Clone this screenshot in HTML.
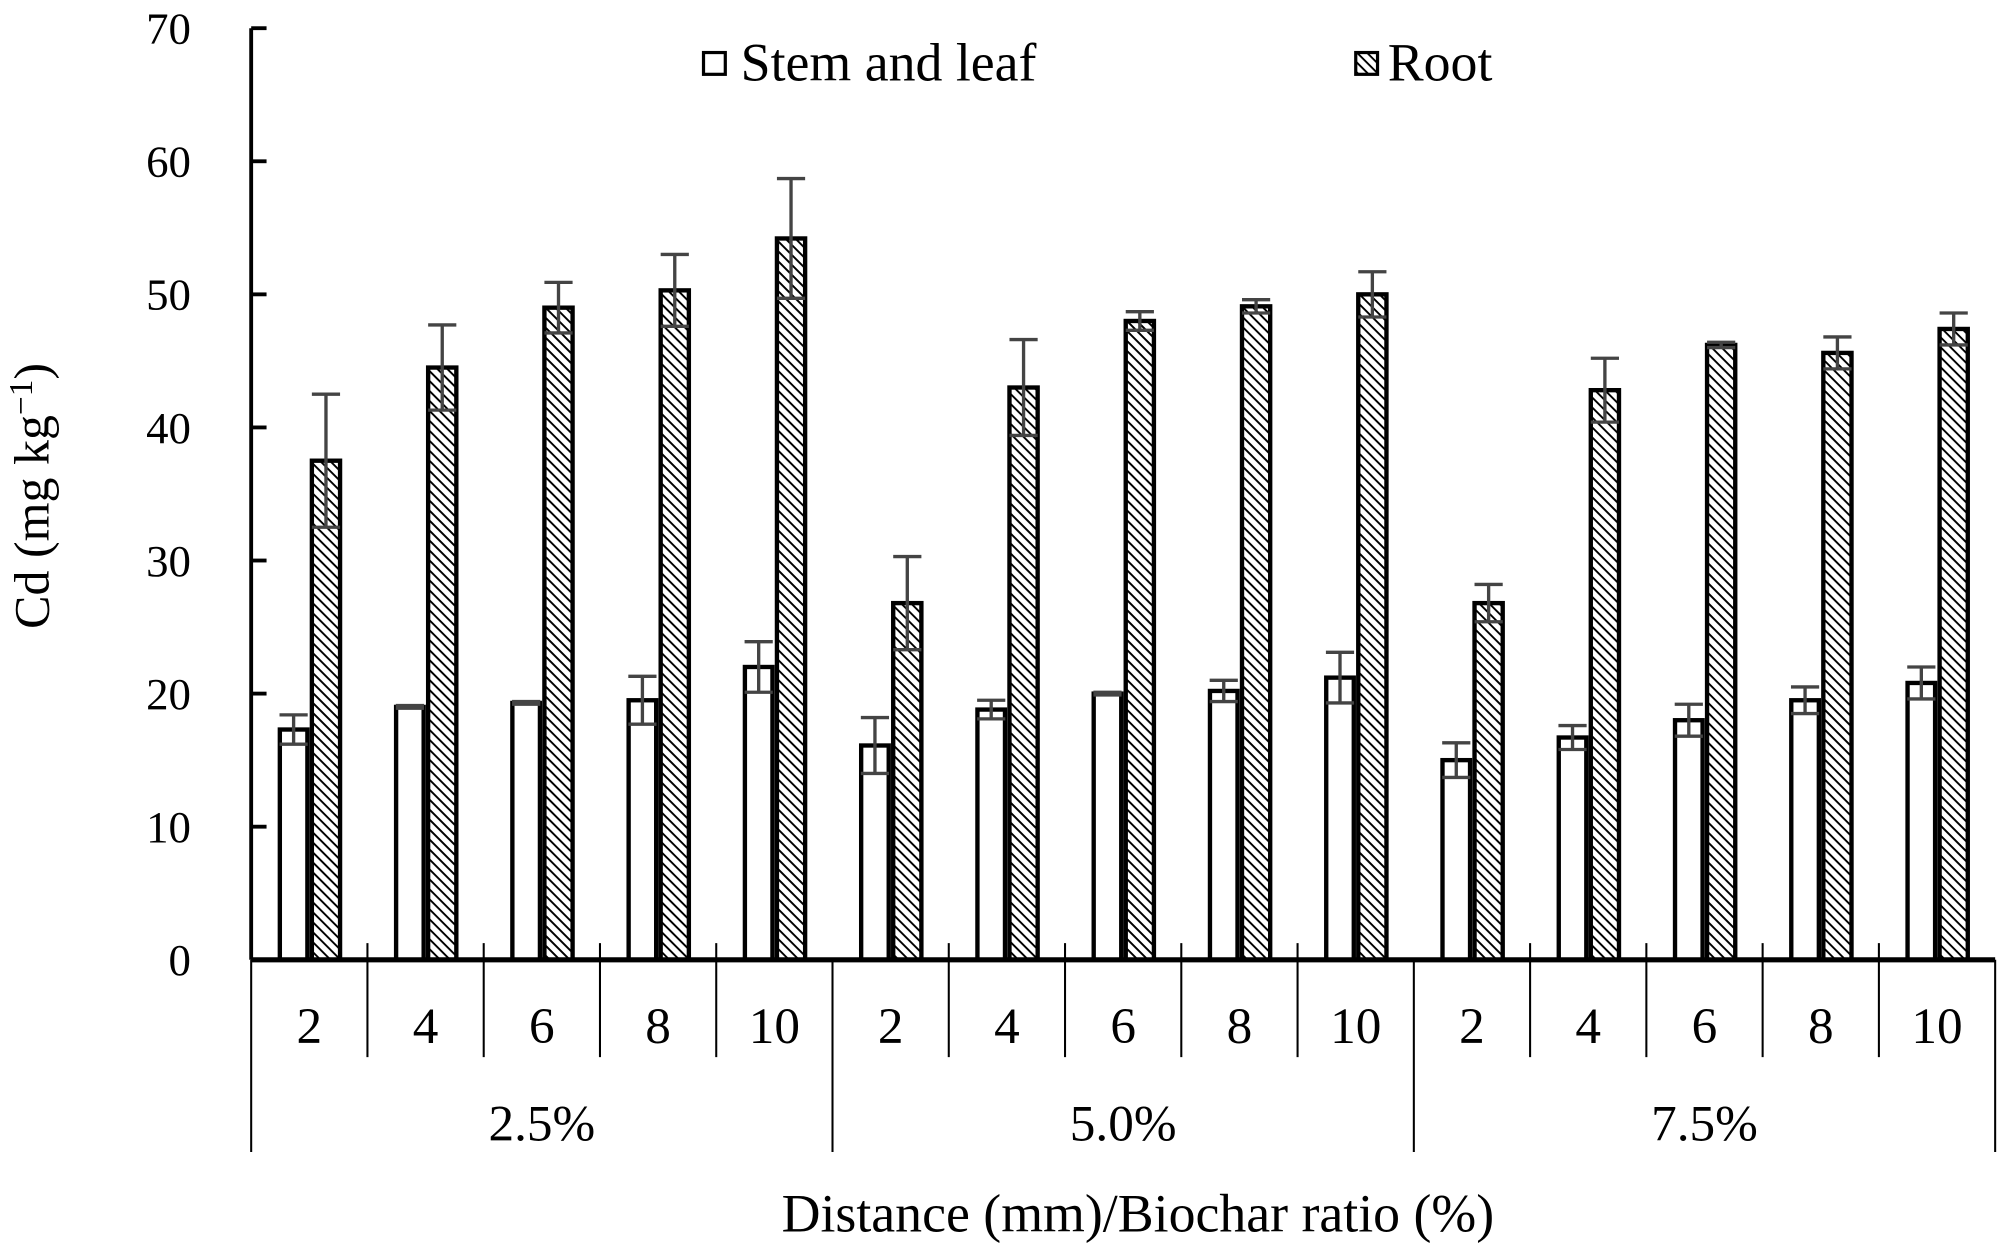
<!DOCTYPE html>
<html><head><meta charset="utf-8"><style>
html,body{margin:0;padding:0;background:#fff;}
svg{display:block;font-family:"Liberation Serif",serif;}
</style></head><body>
<svg id="chart" width="2008" height="1255" viewBox="0 0 1567 979.4" xmlns="http://www.w3.org/2000/svg">
<defs>
<pattern id="hatch" patternUnits="userSpaceOnUse" width="5.5" height="5.5" patternTransform="rotate(45)">
<rect width="5.5" height="5.5" fill="#fff"/>
<line x1="0" y1="0" x2="5.5" y2="0" stroke="#000" stroke-width="3"/>
</pattern>
</defs>
<g id="plot"></g>
</svg>
<script>
const groups = ["2.5%", "5.0%", "7.5%"];
const distances = ["2", "4", "6", "8", "10"];
const stemValues = [17.3, 19.0, 19.3, 19.5, 22.0, 16.1, 18.8, 20.0, 20.2, 21.2, 15.0, 16.7, 18.0, 19.5, 20.8];
const stemErrors = [1.1, 0.1, 0.1, 1.8, 1.9, 2.1, 0.7, 0.1, 0.8, 1.9, 1.3, 0.9, 1.2, 1.0, 1.2];
const rootValues = [37.5, 44.5, 49.0, 50.3, 54.2, 26.8, 43.0, 48.0, 49.1, 50.0, 26.8, 42.8, 46.2, 45.6, 47.4];
const rootErrors = [5.0, 3.2, 1.9, 2.7, 4.5, 3.5, 3.6, 0.7, 0.5, 1.7, 1.4, 2.4, 0.2, 1.2, 1.2];
const yTicks = [0, 10, 20, 30, 40, 50, 60, 70];

const NS = "http://www.w3.org/2000/svg";
const g = document.getElementById("plot");
const X0 = 196, X1 = 1557, Y0 = 749, YTOP = 22;
const nCat = groups.length * distances.length;
const catW = (X1 - X0) / nCat;
function y(v){ return Y0 - v * (Y0 - YTOP) / 70; }
function cx(i){ return X0 + catW * (i + 0.5); }
function mk(tag, attrs, parent){
  const e = document.createElementNS(NS, tag);
  for (const k in attrs) e.setAttribute(k, attrs[k]);
  (parent || g).appendChild(e);
  return e;
}

for (let i = 0; i < nCat; i++) {
  const c = cx(i);
  const s = mk("rect", {x: c - 23, y: y(stemValues[i]), width: 21.5, height: Y0 - y(stemValues[i]), fill: "#fff", stroke: "#000", "stroke-width": 3.4});
  
  
  const r = mk("rect", {x: c + 2, y: y(rootValues[i]), width: 22, height: Y0 - y(rootValues[i]), fill: "url(#hatch)", stroke: "#000", "stroke-width": 3.4});
  
  
  const bars = [[c - 12.25, stemValues[i], stemErrors[i]], [c + 13, rootValues[i], rootErrors[i]]];
  for (const [bx, v, e] of bars) {
    const eb = mk("path", {d: `M${bx},${y(v - e)}V${y(v + e)}M${bx - 11},${y(v + e)}H${bx + 11}M${bx - 11},${y(v - e)}H${bx + 11}`, stroke: "#444", "stroke-width": 2.6, fill: "none"});
    
    
  }
}

const ya = mk("line", {x1: X0, y1: YTOP, x2: X0, y2: Y0, stroke: "#000", "stroke-width": 3});


for (const t of yTicks) {
  mk("line", {x1: X0, y1: y(t), x2: X0 + 12, y2: y(t), stroke: "#000", "stroke-width": 3});
  const tl = mk("text", {x: 149, y: y(t) + 12, "text-anchor": "end", "font-size": 35});
  tl.textContent = t;
  
  
}
const xa = mk("line", {x1: X0, y1: Y0, x2: X1, y2: Y0, stroke: "#000", "stroke-width": 4});


for (let i = 0; i <= nCat; i++) {
  const x = X0 + catW * i;
  const isGroup = i % distances.length === 0;
  mk("line", {x1: x, y1: isGroup ? Y0 : Y0 - 13, x2: x, y2: isGroup ? 899 : 825, stroke: "#000", "stroke-width": 1.6});
}
for (let i = 0; i < nCat; i++) {
  const tl = mk("text", {x: cx(i), y: 814, "text-anchor": "middle", "font-size": 40});
  tl.textContent = distances[i % distances.length];
  
  
}
groups.forEach((gr, k) => {
  const tl = mk("text", {x: X0 + catW * distances.length * (k + 0.5), y: 890, "text-anchor": "middle", "font-size": 40});
  tl.textContent = gr;
  
  
});
</script>
<script>
(function(){
  const g = document.getElementById("plot");
  const NS = "http://www.w3.org/2000/svg";
  function mk(tag, attrs){ const e = document.createElementNS(NS, tag); for (const k in attrs) e.setAttribute(k, attrs[k]); g.appendChild(e); return e; }
  const xt = mk("text", {x: 888, y: 961, "text-anchor": "middle", "font-size": 42});
  xt.textContent = "Distance (mm)/Biochar ratio (%)";
  
  
  const yt = mk("text", {x: 0, y: 0, "text-anchor": "middle", "font-size": 39, transform: "translate(38,387) rotate(-90)"});
  yt.innerHTML = 'Cd (mg kg<tspan dy="-13" font-size="26">−1</tspan><tspan dy="13">)</tspan>';
  
  
  const l1 = mk("rect", {x: 549, y: 41, width: 17, height: 17, fill: "#fff", stroke: "#000", "stroke-width": 2.5});
  
  
  const t1 = mk("text", {x: 578, y: 63, "font-size": 42});
  t1.textContent = "Stem and leaf";
  
  
  const l2 = mk("rect", {x: 1058, y: 41, width: 17, height: 17, fill: "url(#hatch)", stroke: "#000", "stroke-width": 2.5});
  
  
  const t2 = mk("text", {x: 1083, y: 63, "font-size": 42});
  t2.textContent = "Root";
  
  
})();
</script>
</body></html>
